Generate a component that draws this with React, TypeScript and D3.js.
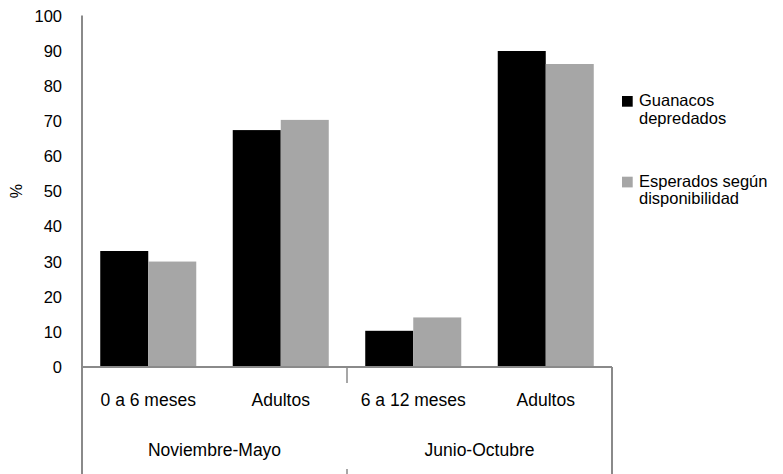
import React from "react";
import * as d3 from "d3";

const periods = ["Noviembre-Mayo", "Junio-Octubre"];
const ageClasses = ["0 a 6 meses", "Adultos", "6 a 12 meses", "Adultos"];
const categoryPeriod = [0, 0, 1, 1];
const seriesKeys = ["depredados", "esperados"];
const legendLines = [
  ["Guanacos", "depredados"],
  ["Esperados según", "disponibilidad"],
];
const predated = [33, 67.4, 10.3, 89.9];
const expected = [30, 70.3, 14.1, 86.2];
const yTicks = [0, 10, 20, 30, 40, 50, 60, 70, 80, 90, 100];

const W = 783;
const H = 474;
const left = 82;
const right = 612;
const top = 15.5;
const bottom = 367;
const colors = ["#000000", "#a6a6a6"];
const axisColor = "#8a8a8a";
const font = "'Liberation Sans', Arial, sans-serif";

export default function App() {
  const cats = ageClasses.map((_, i) => String(i));
  const x0 = d3.scaleBand<string>().domain(cats).range([left, right]).padding(0);
  const x1 = d3
    .scaleBand<string>()
    .domain(seriesKeys)
    .range([0, x0.bandwidth()])
    .paddingInner(0)
    .paddingOuter(0.38);
  const y = d3.scaleLinear().domain([0, 100]).range([bottom, top]);
  const values = [predated, expected];

  const periodX = periods.map((_, p) => {
    const idx = categoryPeriod
      .map((v, i) => (v === p ? i : -1))
      .filter((i) => i >= 0);
    const a = x0(String(idx[0]))!;
    const b = x0(String(idx[idx.length - 1]))! + x0.bandwidth();
    return { a, b, c: (a + b) / 2 };
  });

  return (
    <svg
      width={W}
      height={H}
      style={{ position: "absolute", left: 0, top: 0, background: "#fff" }}
      fontFamily={font}
    >
      <rect width={W} height={H} fill="#fff" />
      {/* bars */}
      {cats.map((c, i) =>
        seriesKeys.map((s, k) => (
          <rect
            key={c + s}
            x={x0(c)! + x1(s)!}
            y={y(values[k][i])}
            width={x1.bandwidth()}
            height={y(0) - y(values[k][i])}
            fill={colors[k]}
          />
        ))
      )}
      {/* y axis */}
      <line x1={left} x2={left} y1={top} y2={H} stroke={axisColor} strokeWidth={2} />
      {yTicks.map((t) => (
        <text
          key={t}
          x={62}
          y={y(t)}
          textAnchor="end"
          dominantBaseline="central"
          fontSize={16.5}
          fill="#000"
        >
          {t}
        </text>
      ))}
      <text
        transform={`translate(16,${y(50)}) rotate(-90)`}
        textAnchor="middle"
        dominantBaseline="central"
        fontSize={16}
        fill="#000"
      >
        %
      </text>
      {/* x axis box */}
      <line x1={left} x2={right} y1={bottom} y2={bottom} stroke={axisColor} strokeWidth={2} />
      <line x1={right} x2={right} y1={bottom} y2={H} stroke={axisColor} strokeWidth={2} />
      {periodX.slice(1).map((p, i) => (
        <g key={i}>
          <line x1={p.a} x2={p.a} y1={bottom} y2={383} stroke={axisColor} strokeWidth={1.5} />
          <line x1={p.a} x2={p.a} y1={469} y2={H} stroke={axisColor} strokeWidth={1.5} />
        </g>
      ))}
      {ageClasses.map((a, i) => (
        <text
          key={i}
          x={x0(String(i))! + x0.bandwidth() / 2}
          y={406}
          textAnchor="middle"
          fontSize={17.5}
          fill="#000"
        >
          {a}
        </text>
      ))}
      {periods.map((p, i) => (
        <text
          key={p}
          x={periodX[i].c}
          y={455.5}
          textAnchor="middle"
          fontSize={17.5}
          fill="#000"
        >
          {p}
        </text>
      ))}
      {/* legend */}
      {legendLines.map((lines, k) => (
        <g key={k} transform={`translate(622,${96 + k * 80.7})`}>
          <rect x={0} y={0} width={10.7} height={10.7} fill={colors[k]} />
          {lines.map((ln, j) => (
            <text key={j} x={17} y={10 + j * 17.5} fontSize={16.5} fill="#000">
              {ln}
            </text>
          ))}
        </g>
      ))}
    </svg>
  );
}
